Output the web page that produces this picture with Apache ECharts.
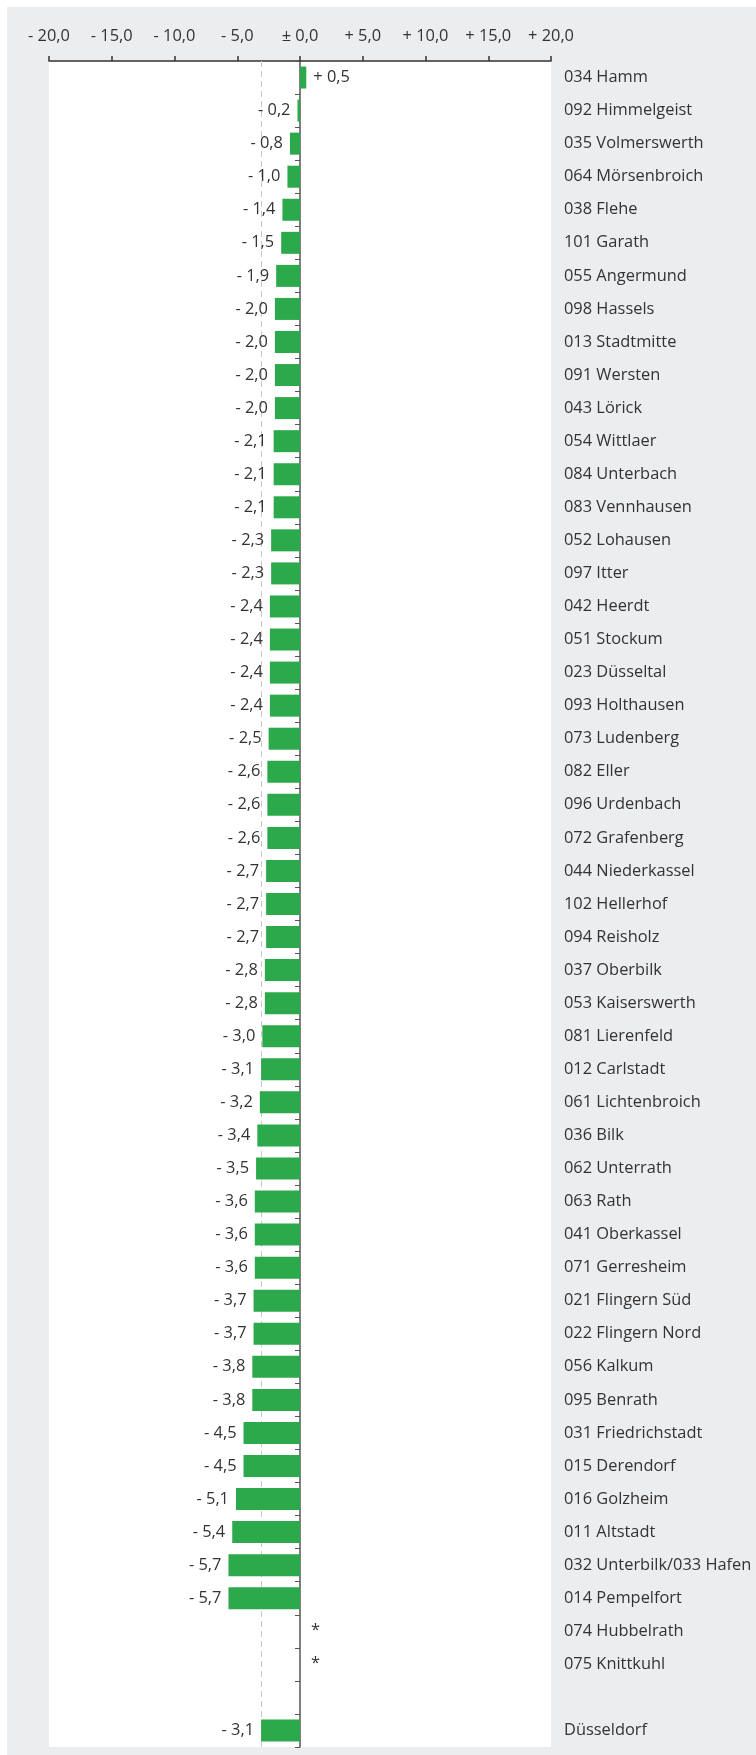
<!DOCTYPE html>
<html>
<head>
<meta charset="utf-8">
<script src="https://cdn.jsdelivr.net/npm/echarts@6/dist/echarts.min.js"></script>
<style>
  html, body { margin: 0; padding: 0; background: #fff; }
  #panel { position: absolute; left: 7px; top: 7px; width: 749px; height: 1748px; background: #ecedef; }
  #chart { position: absolute; left: 0; top: 0; width: 756px; height: 1755px; }
</style>
</head>
<body>
<div id="panel"></div>
<div id="chart"></div>
<script>
// Districts, top to bottom ('' = empty spacer row)
const districts = [
  '034 Hamm', '092 Himmelgeist', '035 Volmerswerth', '064 Mörsenbroich', '038 Flehe',
  '101 Garath', '055 Angermund', '098 Hassels', '013 Stadtmitte', '091 Wersten',
  '043 Lörick', '054 Wittlaer', '084 Unterbach', '083 Vennhausen', '052 Lohausen',
  '097 Itter', '042 Heerdt', '051 Stockum', '023 Düsseltal', '093 Holthausen',
  '073 Ludenberg', '082 Eller', '096 Urdenbach', '072 Grafenberg', '044 Niederkassel',
  '102 Hellerhof', '094 Reisholz', '037 Oberbilk', '053 Kaiserswerth', '081 Lierenfeld',
  '012 Carlstadt', '061 Lichtenbroich', '036 Bilk', '062 Unterrath', '063 Rath',
  '041 Oberkassel', '071 Gerresheim', '021 Flingern Süd', '022 Flingern Nord', '056 Kalkum',
  '095 Benrath', '031 Friedrichstadt', '015 Derendorf', '016 Golzheim', '011 Altstadt',
  '032 Unterbilk/033 Hafen', '014 Pempelfort', '074 Hubbelrath', '075 Knittkuhl', '',
  'Düsseldorf'
];

// change in percent (null = no value)
const changes = [
  0.5, -0.2, -0.8, -1.0, -1.4,
  -1.5, -1.9, -2.0, -2.0, -2.0,
  -2.0, -2.1, -2.1, -2.1, -2.3,
  -2.3, -2.4, -2.4, -2.4, -2.4,
  -2.5, -2.6, -2.6, -2.6, -2.7,
  -2.7, -2.7, -2.8, -2.8, -3.0,
  -3.1, -3.2, -3.4, -3.5, -3.6,
  -3.6, -3.6, -3.7, -3.7, -3.8,
  -3.8, -4.5, -4.5, -5.1, -5.4,
  -5.7, -5.7, null, null, null,
  -3.1
];

// rows shown with an asterisk instead of a value
const starred = ['074 Hubbelrath', '075 Knittkuhl'];

const cityAverage = -3.1;
const axisTicks = [-20, -15, -10, -5, 0, 5, 10, 15, 20];

const fmt = (v) => {
  const s = Math.abs(v).toFixed(1).replace('.', ',');
  if (v > 0) return '+ ' + s;
  if (v < 0) return '- ' + s;
  return '± ' + s;
};

const FONT = '"Open Sans", "DejaVu Sans", sans-serif';
const FS = 16.4;
const TXT = '#333';

const barData = districts.map((name, i) => {
  const v = changes[i];
  if (starred.includes(name)) {
    return {
      value: 0,
      label: { show: true, position: 'right', distance: 11, formatter: '*', offset: [0, -1] }
    };
  }
  if (v === null) return null;
  return {
    value: v,
    label: { show: true, position: v >= 0 ? 'right' : 'left', formatter: fmt(v) }
  };
});

const chart = echarts.init(document.getElementById('chart'));

chart.setOption({
  animation: false,
  grid: {
    left: 49, right: 205, top: 61, bottom: 8,
    show: true, backgroundColor: '#fff', borderWidth: 0
  },
  xAxis: {
    type: 'value',
    position: 'top',
    min: axisTicks[0],
    max: axisTicks[axisTicks.length - 1],
    interval: 5,
    axisLine: { show: true, onZero: false, lineStyle: { color: '#333', width: 1.5 } },
    axisTick: { show: true, length: 5, lineStyle: { color: '#333', width: 1.5 } },
    splitLine: { show: false },
    axisLabel: {
      margin: 17,
      color: TXT,
      fontFamily: FONT,
      fontSize: FS,
      formatter: (v) => fmt(v)
    }
  },
  yAxis: [
    {
      type: 'category',
      data: districts,
      inverse: true,
      position: 'left',
      axisLine: { show: true, onZero: true, lineStyle: { color: '#555', width: 1.5 } },
      axisTick: { show: true, length: 5, lineStyle: { color: '#555' } },
      axisLabel: { show: false }
    },
    {
      type: 'category',
      data: districts,
      inverse: true,
      position: 'right',
      axisLine: { show: false, onZero: false },
      axisTick: { show: false },
      axisLabel: {
        margin: 13,
        color: TXT,
        fontFamily: FONT,
        fontSize: FS
      }
    }
  ],
  series: [
    {
      type: 'bar',
      yAxisIndex: 0,
      data: barData,
      barWidth: 22,
      itemStyle: { color: '#2ca94b' },
      label: {
        show: true,
        distance: 7,
        color: TXT,
        fontFamily: FONT,
        fontSize: FS
      },
      markLine: {
        silent: true,
        symbol: 'none',
        label: { show: false },
        lineStyle: { color: '#c8c8c8', type: [6, 4], width: 1 },
        data: [{ xAxis: cityAverage }],
        z: 1
      },
      z: 3
    }
  ]
});
</script>
</body>
</html>
